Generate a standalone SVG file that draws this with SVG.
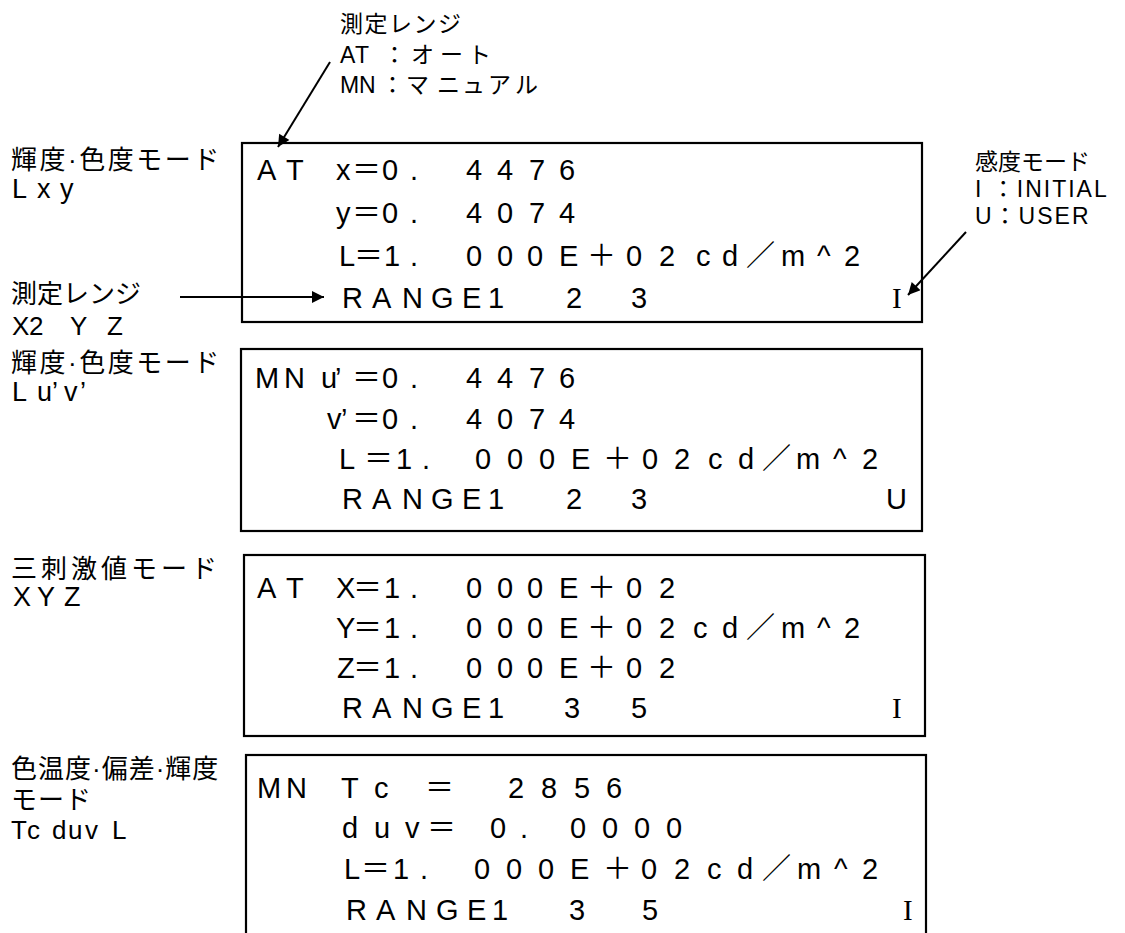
<svg xmlns="http://www.w3.org/2000/svg" width="1125" height="933" viewBox="0 0 1125 933">
<style>
.box{fill:#fff;stroke:#000;stroke-width:2.2}
.lcd{font-family:"Liberation Sans","Noto Sans CJK JP",sans-serif;font-size:29px;fill:#000}
.ser{font-family:"Liberation Serif",serif;font-size:29px;fill:#000}
.lab{font-family:"Liberation Sans","Noto Sans CJK JP",sans-serif;font-size:26px;fill:#000}
.lat{font-family:"Liberation Sans",sans-serif;font-size:27px;fill:#000}
.ann{font-family:"Liberation Sans","Noto Sans CJK JP",sans-serif;font-size:23px;fill:#000}
.con{stroke:#000;stroke-width:2;fill:none;marker-end:url(#ah)}
</style>
<defs>
<marker id="ah" viewBox="0 0 10 10" refX="10" refY="5" markerWidth="7.5" markerHeight="6" markerUnits="strokeWidth" orient="auto">
<path d="M0,0 L10,5 L0,10 z" fill="#000"/>
</marker>
</defs>
<rect width="1125" height="933" fill="#fff"/>

<g id="note-range-top">
<text class="ann" x="340" y="32" letter-spacing="1.5">測定レンジ</text>
<text class="ann" x="340 355 370 383 411 440 468" y="63">AT ：オート</text>
<text class="ann" x="340 359 381 406 437 462 488 515" y="93">MN：マニュアル</text>
</g>

<g id="note-sens">
<text class="ann" x="975" y="170" font-size="22px">感度モード</text>
<text class="ann" x="975" y="197" letter-spacing="2">I ：INITIAL</text>
<text class="ann" x="975" y="224" letter-spacing="2">U：USER</text>
</g>

<g id="label-lxy">
<text class="lab" x="11" y="169" letter-spacing="2.5">輝度·色度モード</text>
<text class="lat" x="12 37 60" y="198">Lxy</text>
</g>
<g id="label-range">
<text class="lab" x="11" y="303">測定レンジ</text>
<text class="lab" x="12 29 50 70 90 107" y="335" font-size="24px">X2 Y Z</text>
</g>
<g id="label-luv">
<text class="lab" x="11" y="372" letter-spacing="2.5">輝度·色度モード</text>
<text class="lat" x="12 37 52 64 80" y="401" font-size="26px">Lu’v’</text>
</g>
<g id="label-xyz">
<text class="lab" x="11" y="578" letter-spacing="4">三刺激値モード</text>
<text class="lat" x="13 37 64" y="606" font-size="26px">XYZ</text>
</g>
<g id="label-tc">
<text class="lab" x="11" y="778" letter-spacing="1">色温度·偏差·輝度</text>
<text class="lab" x="11" y="809" letter-spacing="1">モード</text>
<text class="lab" x="11 27 40 52 68 85 100 112" y="839" font-size="25px">Tc duv L</text>
</g>

<g id="box-lxy">
<rect class="box" x="242" y="143" width="680" height="179"/>
<text class="lcd" x="257 286 310 336 352 382 410 430 466 497 529 559" y="180">AT x＝0. 4476</text>
<text class="lcd" x="336 352 382 410 430 466 497 529 559" y="223">y＝0. 4074</text>
<text class="lcd" x="339 354 384 410 430 466 497 527 559 587 626 659 696 722 746 781 817 844" y="266">L＝1. 000E＋02cd／m^2</text>
<text class="lcd" x="342 372 402 431 462 488 520 566 600 631" y="308">RANGE1 2 3</text>
<text class="ser" x="892" y="308">I</text>
</g>

<g id="box-luv">
<rect class="box" x="241" y="349" width="681" height="182"/>
<text class="lcd" x="255 284 305 321 335 343 352 382 410 430 466 497 529 559" y="388">MN u’ ＝0. 4476</text>
<text class="lcd" x="327 341 347 352 382 410 430 466 497 529 559" y="429">v’ ＝0. 4074</text>
<text class="lcd" x="339 355 364 396 422 445 475 507 539 571 603 642 674 708 738 762 796 833 862" y="469">L ＝1. 000E＋02cd／m^2</text>
<text class="lcd" x="342 372 402 431 462 488 520 566 600 631" y="509">RANGE1 2 3</text>
<text class="lcd" x="886" y="509">U</text>
</g>

<g id="box-xyz">
<rect class="box" x="244" y="555" width="681" height="181"/>
<text class="lcd" x="257 286 310 336 353 384 410 430 466 497 527 559 587 626 659" y="598">AT X＝1. 000E＋02</text>
<text class="lcd" x="336 353 384 410 430 466 497 527 559 587 626 659 693 722 746 781 817 844" y="638">Y＝1. 000E＋02cd／m^2</text>
<text class="lcd" x="337 353 384 410 430 466 497 527 559 587 626 659" y="678">Z＝1. 000E＋02</text>
<text class="lcd" x="342 372 402 431 462 488 520 564 600 631" y="718">RANGE1 3 5</text>
<text class="ser" x="892" y="718">I</text>
</g>

<g id="box-tc">
<rect class="box" x="246" y="755" width="680" height="200"/>
<text class="lcd" x="257 286 310 341 374 395 425 460 508 541 574 606" y="798">MN Tc ＝ 2856</text>
<text class="lcd" x="342 374 405 427 460 490 520 540 570 602 634 666" y="838">duv＝ 0. 0000</text>
<text class="lcd" x="344 361 393 420 444 474 506 538 570 603 641 674 707 737 762 797 834 862" y="879">L＝1. 000E＋02cd／m^2</text>
<text class="lcd" x="346 376 406 436 467 492 525 569 610 642" y="920">RANGE1 3 5</text>
<text class="ser" x="903" y="920">I</text>
</g>

<g id="connectors">
<line class="con" x1="330" y1="62" x2="278" y2="147"/>
<line class="con" x1="180" y1="297" x2="324" y2="297"/>
<line class="con" x1="966" y1="232" x2="908" y2="295"/>
</g>
</svg>
